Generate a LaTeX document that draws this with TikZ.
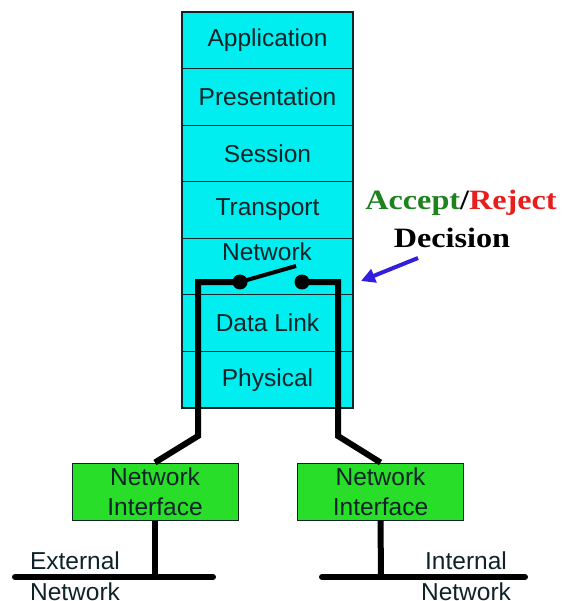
\documentclass[tikz,border=0pt]{standalone}
\usepackage{fontspec}
\setmainfont{Liberation Sans}
\newfontfamily\serifbold{Liberation Serif}
\usetikzlibrary{arrows.meta}
\definecolor{layerfill}{RGB}{0,238,240}
\definecolor{ifacefill}{RGB}{40,222,40}
\definecolor{txt}{RGB}{15,35,40}
\definecolor{acc}{RGB}{30,130,30}
\definecolor{rej}{RGB}{230,30,30}
\definecolor{arr}{RGB}{50,30,220}
\tikzset{
  layer/.style={draw=txt, line width=1.2pt, fill=layerfill, minimum width=171pt, minimum height=56.57pt, inner sep=0pt, text=txt, font=\fontsize{24.5}{29}\selectfont},
  iface/.style={draw=txt, line width=1pt, fill=ifacefill, minimum width=166pt, minimum height=57pt, inner sep=0pt, text=txt, align=center, font=\fontsize{24.5}{29.5}\selectfont},
  lbl/.style={text=txt, inner sep=0pt, align=center, font=\fontsize{24.5}{31}\selectfont},
  wire/.style={line width=6pt, black, line join=miter},
  bar/.style={line width=6pt, black, line cap=round},
  dot/.style={circle, fill=black, minimum size=15pt, inner sep=0pt},
}
\begin{document}
\begin{tikzpicture}[x=1pt,y=-1pt]
\useasboundingbox (0,0) rectangle (561,601);
\fill[white] (0,0) rectangle (561,601);
% stack
\node[layer] (app)  at (267.5, 40.3) {Application};
\node[layer] (pres) at (267.5, 96.9) {Presentation};
\node[layer] (sess) at (267.5,153.4) {Session};
\node[layer] (trans) at (267.5,210.0) {Transport};
\node[layer] (net)  at (267.5,266.6) {};
\node[layer] (dl)   at (267.5,323.1) {Data Link};
\node[layer] (phys) at (267.5,379.7) {Physical};
\node[lbl] (netlbl) at (267,252) {Network};
% interfaces
\node[iface] (gl) at (155,491.5) {Network\\Interface};
\node[iface] (gr) at (380.5,491.5) {Network\\Interface};
% switch
\coordinate (lc) at (198,282);
\coordinate (lb) at (198,436);
\coordinate (rc) at (338,282);
\coordinate (rb) at (338,436);
\coordinate (lev) at (296,266);
\node[dot] (ld) at (240,282) {};
\node[dot] (rd) at (302,282) {};
\draw[wire] (ld.center) -- (lc) -- (lb) -- (gl.north);
\draw[wire] (rd.center) -- (rc) -- (rb) -- (gr.north);
\draw[line width=4pt, black] (ld.center) -- (lev);
% networks
\coordinate (le) at (155,577);
\coordinate (re) at (381,577);
\coordinate (lbl1) at (15,577);
\coordinate (lbr1) at (213,577);
\coordinate (rbl1) at (322,577);
\coordinate (rbr1) at (525,577);
\draw[wire] (gl.south) -- (le);
\draw[wire] (gr.south) -- (re);
\draw[bar] (lbl1) -- (lbr1);
\draw[bar] (rbl1) -- (rbr1);
\node[lbl] (ext) at (75,576) {External\\Network};
\node[lbl] (int) at (466,576) {Internal\\Network};
% decision
\node[inner sep=0pt, font=\serifbold\bfseries\fontsize{28}{30}\selectfont, xscale=1.15] (ar) at (461,203) {\textcolor{acc}{Accept}/\textcolor{rej}{Reject}};
\node[inner sep=0pt, font=\serifbold\bfseries\fontsize{28}{30}\selectfont, xscale=1.15, text=black] (dec) at (452,238) {Decision};
\coordinate (as) at (418,258);
\draw[arr, line width=4pt, -{Triangle[length=14pt,width=14pt]}] (as) -- (361,281);
\end{tikzpicture}
\end{document}
